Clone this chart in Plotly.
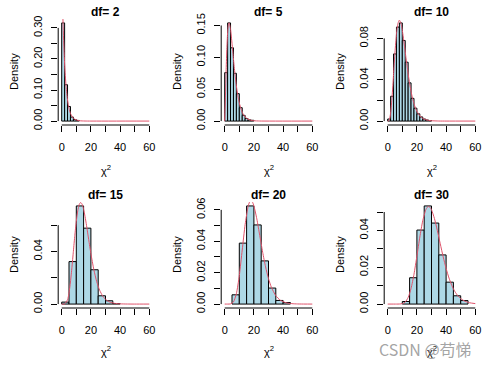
import plotly.graph_objects as go

W, H = 489, 366

# ---------------- data ----------------
dfs = [2, 5, 10, 15, 20, 30]
bin_start = [0, 0, 0, 0, 5, 10]
bin_width = [2, 2, 2, 5, 5, 5]

dens_df2 = [0.316, 0.117, 0.047, 0.013, 0.005, 0.002]
dens_df5 = [0.076, 0.154, 0.115, 0.075, 0.043, 0.021, 0.009, 0.004, 0.0018, 0.0012]
dens_df10 = [0.002, 0.024, 0.065, 0.091, 0.095, 0.078, 0.057, 0.037, 0.022, 0.0125,
             0.007, 0.004, 0.002, 0.001, 0.0005]
dens_df15 = [0.0015, 0.0323, 0.0746, 0.0577, 0.0261, 0.0063, 0.0025, 0.0004]
dens_df20 = [0.0059, 0.0388, 0.0625, 0.0504, 0.0275, 0.0102, 0.0023, 0.001]
dens_df30 = [0.0014, 0.0143, 0.0402, 0.0533, 0.044, 0.0267, 0.0119, 0.0045, 0.0019]
densities = [dens_df2, dens_df5, dens_df10, dens_df15, dens_df20, dens_df30]

# red density curves
cx_df2 = [0, 1, 2, 3, 4, 5, 6, 8, 10, 12, 14, 16, 20, 60]
cy_df2 = [0.5, 0.3033, 0.1839, 0.1116, 0.0677, 0.041, 0.0249, 0.0092, 0.0034, 0.0012,
          0.00046, 0.00017, 0.00002, 0]
cx_df5 = [0, 0.5, 1, 1.5, 2, 2.5, 3, 4, 5, 6, 7, 8, 9, 10, 12, 14, 16, 18, 20, 24, 60]
cy_df5 = [0, 0.0366, 0.0807, 0.1154, 0.1384, 0.1506, 0.1542, 0.144, 0.122, 0.0973,
          0.0744, 0.0551, 0.0399, 0.0283, 0.0137, 0.0064, 0.0029, 0.0013, 0.0005, 0.0001, 0]
cx_df10 = [0, 1, 2, 3, 4, 5, 6, 7, 8, 9, 10, 11, 12, 13, 14, 15, 16, 17, 18, 19, 20,
           22, 24, 26, 28, 30, 35, 40, 60]
cy_df10 = [0, 0.00079, 0.00766, 0.02353, 0.04511, 0.0668, 0.08402, 0.09441, 0.09769,
           0.09493, 0.08773, 0.07791, 0.06692, 0.05591, 0.04561, 0.03646, 0.02863,
           0.02213, 0.01687, 0.0127, 0.00946, 0.00509, 0.00265, 0.00134, 0.00067,
           0.00032, 0.00005, 0.000007, 0]
cx_df15 = [0, 2, 4, 5, 6, 7, 8, 9, 10, 11, 12, 13, 14, 15, 16, 17, 18, 19, 20, 22, 24,
           26, 28, 30, 33, 36, 40, 45, 50, 60]
cy_df15 = [0, 0.0001, 0.00327, 0.00847, 0.0168, 0.02775, 0.04009, 0.05229, 0.0629,
           0.07089, 0.07569, 0.07724, 0.07584, 0.07203, 0.06646, 0.05978, 0.05257,
           0.04531, 0.03836, 0.02622, 0.01698, 0.01051, 0.00626, 0.00361, 0.0015,
           0.00059, 0.00016, 0.00003, 0.000004, 0]
cx_df20 = [0, 2, 4, 6, 8, 10, 12, 14, 16, 17, 18, 19, 20, 22, 24, 26, 28, 30, 32, 35,
           38, 42, 46, 50, 55, 60]
cy_df20 = [0, 0.0000005, 0.0000954, 0.00135, 0.006616, 0.01813, 0.03441, 0.0507,
           0.06202, 0.06491, 0.06585, 0.06497, 0.06253, 0.05425, 0.04367, 0.03302,
           0.02368, 0.0162, 0.01065, 0.005326, 0.00249, 0.00083, 0.000255, 0.000073,
           0.000014, 0]
cx_df30 = [0, 6, 8, 10, 12, 14, 16, 18, 20, 22, 24, 26, 27, 28, 29, 30, 32, 34, 36,
           38, 40, 42, 44, 46, 48, 50, 53, 56, 60]
cy_df30 = [0, 0.0000014, 0.0000282, 0.000236, 0.001114, 0.003548, 0.008463, 0.01619,
           0.02604, 0.03638, 0.04525, 0.05105, 0.05251, 0.053, 0.05253, 0.05122,
           0.0465, 0.03997, 0.03274, 0.02567, 0.01937, 0.01411, 0.00996, 0.00683,
           0.00456, 0.00297, 0.0015, 0.000722, 0.000257]
curves_x = [cx_df2, cx_df5, cx_df10, cx_df15, cx_df20, cx_df30]
curves_y = [cy_df2, cy_df5, cy_df10, cy_df15, cy_df20, cy_df30]

x_tickvals = [0, 10, 20, 30, 40, 50, 60]
x_ticktext = ["0", "", "20", "", "40", "", "60"]

y_tickvals = [
    [0, 0.05, 0.10, 0.15, 0.20, 0.25, 0.30],
    [0, 0.05, 0.10, 0.15],
    [0, 0.02, 0.04, 0.06, 0.08],
    [0, 0.02, 0.04, 0.06],
    [0, 0.01, 0.02, 0.03, 0.04, 0.05, 0.06],
    [0, 0.01, 0.02, 0.03, 0.04, 0.05],
]
y_ticktext = [
    ["0.00", "", "0.10", "", "0.20", "", "0.30"],
    ["0.00", "0.05", "0.10", "0.15"],
    ["0.00", "", "0.04", "", "0.08"],
    ["0.00", "", "0.04", ""],
    ["0.00", "", "0.02", "", "0.04", "", "0.06"],
    ["0.00", "", "0.02", "", "0.04", ""],
]

# ---------------- styling ----------------
FONT = "Arial, Liberation Sans, sans-serif"
BAR_FILL = "#ADD8E6"
CURVE_COL = "#DF536B"

fig = go.Figure()
annotations = []
shapes = []

for i, df in enumerate(dfs):
    r, c = divmod(i, 3)
    left = 58.2 + 163 * c
    right = 152.8 + 163 * c
    top = 19 + 183 * r
    bottom = 125 + 183 * r
    xa = "x" if i == 0 else f"x{i+1}"
    ya = "y" if i == 0 else f"y{i+1}"
    xkey = "xaxis" if i == 0 else f"xaxis{i+1}"
    ykey = "yaxis" if i == 0 else f"yaxis{i+1}"

    dens = densities[i]
    w = bin_width[i]
    centers = [bin_start[i] + w * (k + 0.5) for k in range(len(dens))]
    fig.add_trace(go.Bar(x=centers, y=dens, width=[w] * len(dens), xaxis=xa, yaxis=ya,
                         marker=dict(color=BAR_FILL, line=dict(color="black", width=1)),
                         showlegend=False, hoverinfo="skip"))
    fig.add_trace(go.Scatter(x=curves_x[i], y=curves_y[i], mode="lines", xaxis=xa, yaxis=ya,
                             line=dict(color=CURVE_COL, width=1, shape="spline", smoothing=0.6),
                             showlegend=False, hoverinfo="skip"))

    M = max(dens)
    fig.layout[xkey] = dict(domain=[left / W, right / W], anchor=ya, range=[-2.4, 62.4],
                            automargin=False, fixedrange=True,
                            tickmode="array", tickvals=x_tickvals, ticktext=x_ticktext,
                            ticks="outside", ticklen=6, tickcolor="black", tickwidth=1,
                            showline=False, showgrid=False, zeroline=False,
                            ticklabelstandoff=6,
                            tickfont=dict(family=FONT, size=11, color="black"))
    fig.layout[ykey] = dict(domain=[1 - bottom / H, 1 - top / H], anchor=xa,
                            range=[-0.04 * M, 1.04 * M], automargin=False, fixedrange=True,
                            tickmode="array", tickvals=y_tickvals[i], ticktext=y_ticktext[i],
                            ticks="outside", ticklen=6, tickcolor="black", tickwidth=1,
                            tickangle=-90, showline=False, showgrid=False, zeroline=False,
                            ticklabelstandoff=5,
                            tickfont=dict(family=FONT, size=11, color="black"))

    # R-style axis lines spanning only the tick range
    shapes.append(dict(type="line", xref=xa, yref=f"{ya} domain", x0=0, x1=60, y0=0, y1=0,
                       line=dict(color="black", width=1)))
    shapes.append(dict(type="line", xref=f"{xa} domain", yref=ya, x0=0, x1=0,
                       y0=0, y1=y_tickvals[i][-1], line=dict(color="black", width=1)))

    cxp = (left + right) / 2
    annotations.append(dict(text=f"<b>df= {df}</b>", x=cxp / W, y=1 - (11.7 + 183 * r) / H,
                            xref="paper", yref="paper", showarrow=False,
                            xanchor="center", yanchor="middle",
                            font=dict(family=FONT, size=12, color="black")))
    annotations.append(dict(text="Density", x=(14 + 163 * c) / W, y=1 - (72 + 183 * r) / H,
                            xref="paper", yref="paper", showarrow=False, textangle=-90,
                            xanchor="center", yanchor="middle",
                            font=dict(family=FONT, size=11, color="black")))
    annotations.append(dict(text="χ<sup>2</sup>", x=cxp / W, y=1 - (170 + 181 * r) / H,
                            xref="paper", yref="paper", showarrow=False,
                            xanchor="center", yanchor="middle",
                            font=dict(family=FONT, size=11, color="black")))

annotations.append(dict(text="CSDN @苟悌", x=474 / W, y=1 - 349 / H, xref="paper", yref="paper",
                        showarrow=False, xanchor="right", yanchor="middle",
                        font=dict(family="Noto Sans CJK SC, sans-serif", size=16,
                                  color="rgba(140,140,140,0.8)")))

fig.update_layout(width=W, height=H, margin=dict(l=0, r=0, t=0, b=0, autoexpand=False),
                  paper_bgcolor="white", plot_bgcolor="white",
                  bargap=0, barmode="overlay",
                  annotations=annotations, shapes=shapes)

fig.write_html("out.html", config={"displayModeBar": False, "staticPlot": True},
               post_script="document.body.style.margin='0px';document.body.style.overflow='hidden';")
